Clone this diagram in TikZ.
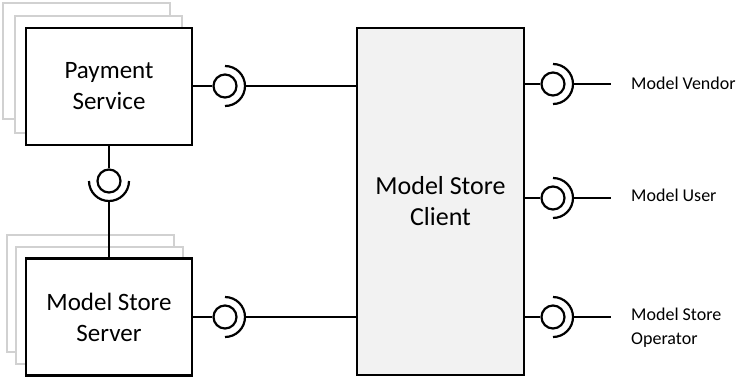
\documentclass[tikz,border=0pt]{standalone}
\usepackage{fontspec}
\setmainfont{Carlito}
\begin{document}
\begin{tikzpicture}[x={(1pt,0)},y={(0,-1pt)},
  comp/.style={draw=black,line width=2.2pt,fill=white,minimum width=166pt,minimum height=117pt,inner sep=0pt,align=center,font=\fontsize{25}{31}\selectfont},
  client/.style={draw=black,line width=2.2pt,fill=black!5,minimum width=167pt,minimum height=347pt,inner sep=0pt,align=center,font=\fontsize{26}{31}\selectfont},
  shadowbox/.style={draw=black!18,line width=1.6pt,fill=white},
  lolli/.style={draw=black,line width=2.2pt,circle,minimum size=23pt,inner sep=0pt},
  wire/.style={draw=black,line width=2.2pt},
  sock/.style={draw=black,line width=2.2pt},
  lbl/.style={anchor=west,inner sep=0pt,align=left,font=\fontsize{18}{24}\selectfont}]
\useasboundingbox (0,0) rectangle (738,378);
% stacked shadows
\draw[shadowbox] (3,3) rectangle (170,119);
\draw[shadowbox] (15,16) rectangle (182,133);
\draw[shadowbox] (7,235) rectangle (174,352);
\draw[shadowbox] (16,247) rectangle (183,364);
% components
\node[comp] (ps) at (109,86.5) {Payment\\Service};
\node[comp] (ms) at (109,317) {Model Store\\Server};
\node[client] (mc) at (440.5,201.5) {Model Store\\Client};
% interfaces
\node[lolli] (i1) at (225,86) {};
\node[lolli] (i2) at (109,181) {};
\node[lolli] (i3) at (225,317) {};
\node[lolli] (i4) at (553,84) {};
\node[lolli] (i5) at (553,198) {};
\node[lolli] (i6) at (553,317) {};
% sockets
\draw[sock] ([shift={(90:20pt)}]i1.center) arc[start angle=90,end angle=-90,radius=20pt];
\draw[sock] ([shift={(90:20pt)}]i3.center) arc[start angle=90,end angle=-90,radius=20pt];
\draw[sock] ([shift={(90:20pt)}]i4.center) arc[start angle=90,end angle=-90,radius=20pt];
\draw[sock] ([shift={(90:20pt)}]i5.center) arc[start angle=90,end angle=-90,radius=20pt];
\draw[sock] ([shift={(90:20pt)}]i6.center) arc[start angle=90,end angle=-90,radius=20pt];
\draw[sock] ([shift={(180:20pt)}]i2.center) arc[start angle=180,end angle=360,radius=20pt];
\coordinate (s1) at ([shift={(0:20pt)}]i1.center);
\coordinate (s2) at ([shift={(270:20pt)}]i2.center);
\coordinate (s3) at ([shift={(0:20pt)}]i3.center);
\coordinate (s4) at ([shift={(0:20pt)}]i4.center);
\coordinate (s5) at ([shift={(0:20pt)}]i5.center);
\coordinate (s6) at ([shift={(0:20pt)}]i6.center);
% wires
\draw[wire] (ps.east |- i1) -- (i1.west);
\draw[wire] (s1) -- (mc.west |- s1);
\draw[wire] (ps.south) -- (i2.north);
\draw[wire] (s2) -- (ms.north);
\draw[wire] (ms.east |- i3) -- (i3.west);
\draw[wire] (s3) -- (mc.west |- s3);
\draw[wire] (mc.east |- i4) -- (i4.west);
\draw[wire] (mc.east |- i5) -- (i5.west);
\draw[wire] (mc.east |- i6) -- (i6.west);
\coordinate (e4) at (611,84);
\coordinate (e5) at (611,198);
\coordinate (e6) at (611,317);
\draw[wire] (s4) -- (e4);
\draw[wire] (s5) -- (e5);
\draw[wire] (s6) -- (e6);
% labels
\node[lbl] (l4) at (631,83) {Model Vendor};
\node[lbl] (l5) at (631,195.5) {Model User};
\node[lbl] (l6) at (631,328) {Model Store\\Operator};
\end{tikzpicture}
\end{document}
